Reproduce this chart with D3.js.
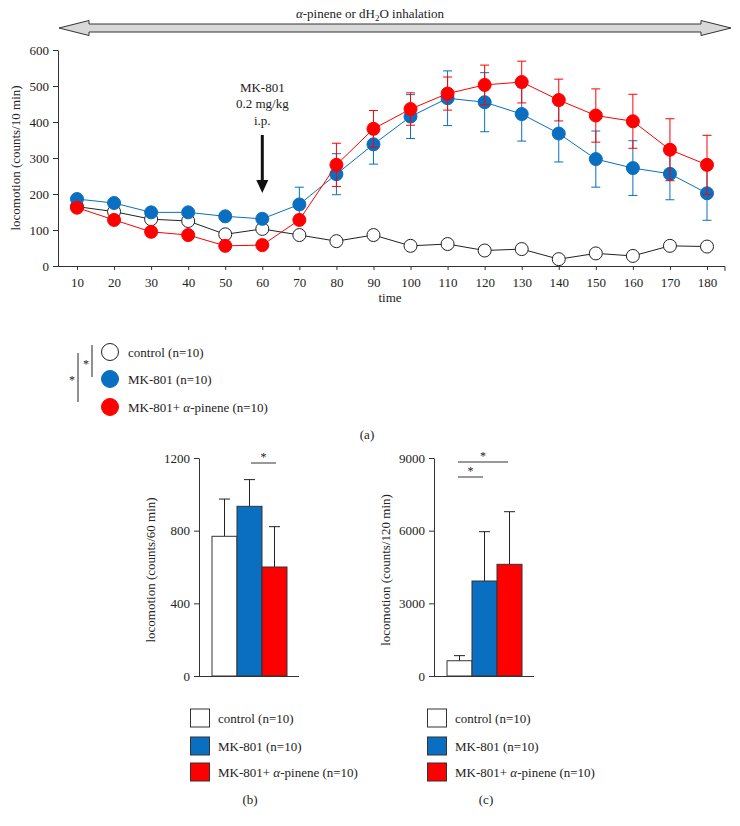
<!DOCTYPE html>
<html><head><meta charset="utf-8">
<script src="https://cdn.jsdelivr.net/npm/d3@7"></script>
<style>body{margin:0;background:#fff}svg{display:block}text{font-family:"Liberation Serif","Times New Roman",serif;fill:#222}</style>
</head><body>
<script>
const times = [10,20,30,40,50,60,70,80,90,100,110,120,130,140,150,160,170,180];
const controlMean = [165,151,130,125,88,103,86,69,86,56,61,43,47,19,35,28,56,54];
const mkMean = [186,175,149,149,138,131,171,255,338,415,466,455,422,368,297,272,256,202];
const mkErr = [10,10,10,10,10,10,48,57,55,61,76,82,75,79,78,76,72,75];
const pinMean = [162,128,95,86,56,58,128,281,381,436,479,503,511,461,418,402,323,281];
const pinErr = [10,10,10,10,10,10,12,60,51,45,46,55,58,58,74,75,86,82];
const yTicksA = [0,100,200,300,400,500,600];

const groups = ["control (n=10)", "MK-801 (n=10)", "MK-801+ α-pinene (n=10)"];
const bar60Mean = [769,934,600];
const bar60Err = [205,147,222];
const bar120Mean = [630,3922,4611];
const bar120Err = [210,2036,2172];
const yTicksB = [0,400,800,1200];
const yTicksC = [0,3000,6000,9000];

const BLUE = "#0a6fc0", RED = "#ff0000";
const colors = ["#ffffff", BLUE, RED];
const FONT = "Liberation Serif, Times New Roman, serif";

const svg = d3.select("body").append("svg").attr("width",740).attr("height",826).attr("font-family",FONT);

// top arrow
const ax1 = 59, ax2 = 731, ay = 28, hl = 30, hh = 7.5, sh = 4;
svg.append("path")
  .attr("d", `M${ax1},${ay} L${ax1+hl},${ay-hh} L${ax1+hl},${ay-sh} L${ax2-hl},${ay-sh} L${ax2-hl},${ay-hh} L${ax2},${ay} L${ax2-hl},${ay+hh} L${ax2-hl},${ay+sh} L${ax1+hl},${ay+sh} L${ax1+hl},${ay+hh} Z`)
  .attr("fill","#d8d8d8").attr("stroke","#333").attr("stroke-width",1);
const tt = svg.append("text").attr("x",370).attr("y",18).attr("text-anchor","middle").attr("font-size",13);
tt.append("tspan").attr("font-style","italic").text("α");
tt.append("tspan").text("-pinene or dH");
tt.append("tspan").attr("font-size",9).attr("dy",3).text("2");
tt.append("tspan").attr("dy",-3).text("O inhalation");

// chart a
const x = d3.scaleLinear().domain([10,180]).range([77,707]);
const y = d3.scaleLinear().domain([0,600]).range([266,50]);
const gA = svg.append("g");
const yAx = gA.append("g").attr("transform","translate(58,0)")
  .call(d3.axisLeft(y).tickValues(yTicksA).tickSize(5).tickSizeOuter(0).tickFormat(d3.format("d")));
const xAx = gA.append("g").attr("transform","translate(0,266)")
  .call(d3.axisBottom(x).tickValues(times).tickSize(4).tickSizeOuter(0).tickFormat(d3.format("d")));
xAx.select(".domain").attr("d","M58,0.5H725V5");
[yAx,xAx].forEach(a=>{a.attr("font-family",FONT).attr("font-size",13);
  a.selectAll("text").attr("fill","#222");
  a.selectAll("line,path").attr("stroke","#333");});
xAx.selectAll("text").attr("dy","1.1em");
yAx.selectAll("text").attr("dx","-1");
gA.append("text").attr("x",390).attr("y",302).attr("text-anchor","middle").attr("font-size",13).text("time");
gA.append("text").attr("transform","translate(20,158) rotate(-90)").attr("text-anchor","middle").attr("font-size",13).text("locomotion (counts/10 min)");

// MK-801 annotation
const ax = x(60);
["MK-801","0.2 mg/kg","i.p."].forEach((s,i)=>
  gA.append("text").attr("x",ax).attr("y",[92,108,125][i]).attr("text-anchor","middle").attr("font-size",13).text(s));
gA.append("rect").attr("x",ax-1.5).attr("y",135).attr("width",3).attr("height",46).attr("fill","#111");
gA.append("path").attr("d",`M${ax-6},180 L${ax+6},180 L${ax},193 Z`).attr("fill","#111");

const line = d3.line().x((d,i)=>x(times[i])).y(d=>y(d));
function errBars(mean, err, col){
  const g = gA.append("g").attr("stroke",col).attr("stroke-width",1);
  mean.forEach((m,i)=>{
    const cx = x(times[i]);
    g.append("line").attr("x1",cx).attr("x2",cx).attr("y1",y(m-err[i])).attr("y2",y(m+err[i]));
    [m-err[i], m+err[i]].forEach(v=>g.append("line").attr("x1",cx-4.5).attr("x2",cx+4.5).attr("y1",y(v)).attr("y2",y(v)));
  });
}
function series(mean, col, fill, stroke){
  gA.append("path").attr("d",line(mean)).attr("fill","none").attr("stroke",col).attr("stroke-width",1);
  gA.selectAll(null).data(mean).enter().append("circle")
    .attr("cx",(d,i)=>x(times[i])).attr("cy",d=>y(d)).attr("r",6.5)
    .attr("fill",fill).attr("stroke",stroke).attr("stroke-width",1);
}
series(controlMean,"#222","#fff","#222");
errBars(mkMean, mkErr, BLUE);
series(mkMean, BLUE, BLUE, BLUE);
errBars(pinMean, pinErr, RED);
series(pinMean, RED, RED, RED);

// legend a
const legA = svg.append("g");
[352,379,407].forEach((cy,i)=>{
  legA.append("circle").attr("cx",110).attr("cy",cy).attr("r",8.5)
    .attr("fill",i==0?"#fff":colors[i]).attr("stroke",i==0?"#222":colors[i]).attr("stroke-width",1);
  const t = legA.append("text").attr("x",128).attr("y",cy+4.5).attr("font-size",13);
  if(i<2) t.text(groups[i]);
  else {t.append("tspan").text("MK-801+ "); t.append("tspan").attr("font-style","italic").text("α"); t.append("tspan").text("-pinene (n=10)");}
});
legA.append("line").attr("x1",92).attr("x2",92).attr("y1",345).attr("y2",377).attr("stroke","#222");
legA.append("line").attr("x1",78).attr("x2",78).attr("y1",353).attr("y2",402).attr("stroke","#222");
legA.append("text").attr("x",86).attr("y",368).attr("text-anchor","middle").attr("font-size",12).text("*");
legA.append("text").attr("x",72).attr("y",384).attr("text-anchor","middle").attr("font-size",12).text("*");
svg.append("text").attr("x",367).attr("y",439).attr("text-anchor","middle").attr("font-size",13).text("(a)");

// bar charts
function barChart(x0, xEnd, barX0, ticks, mean, err, label, sigs){
  const yb = d3.scaleLinear().domain([0, ticks[ticks.length-1]]).range([676,458]);
  const xb = d3.scaleBand().domain(d3.range(mean.length)).range([barX0, barX0+75]).padding(0);
  const g = svg.append("g");
  mean.forEach((m,i)=>{
    const cx = xb(i)+xb.bandwidth()/2;
    g.append("line").attr("x1",cx).attr("x2",cx).attr("y1",yb(m)).attr("y2",yb(m+err[i])).attr("stroke","#222");
    g.append("line").attr("x1",cx-5.5).attr("x2",cx+5.5).attr("y1",yb(m+err[i])).attr("y2",yb(m+err[i])).attr("stroke","#222");
  });
  g.selectAll(null).data(mean).enter().append("rect")
    .attr("x",(d,i)=>xb(i)).attr("width",xb.bandwidth()).attr("y",d=>yb(d)).attr("height",d=>676-yb(d))
    .attr("fill",(d,i)=>colors[i]).attr("stroke","#333").attr("stroke-width",1);
  const a = g.append("g").attr("transform",`translate(${x0},0)`)
    .call(d3.axisLeft(yb).tickValues(ticks).tickSize(5).tickSizeOuter(0).tickFormat(d3.format("d")));
  a.attr("font-family",FONT).attr("font-size",13);
  a.selectAll("text").attr("fill","#222").attr("dx","-1");
  a.selectAll("line,path").attr("stroke","#333");
  g.append("line").attr("x1",x0).attr("x2",xEnd).attr("y1",676.5).attr("y2",676.5).attr("stroke","#333");
  g.append("text").attr("transform",`translate(${x0-44},570) rotate(-90)`).attr("text-anchor","middle").attr("font-size",13).text(label);
  sigs.forEach(s=>{
    g.append("line").attr("x1",s[0]).attr("x2",s[1]).attr("y1",s[2]).attr("y2",s[2]).attr("stroke","#333");
    g.append("text").attr("x",(s[0]+s[1])/2).attr("y",s[2]-2).attr("text-anchor","middle").attr("font-size",12).text("*");
  });
}
barChart(199, 299, 212, yTicksB, bar60Mean, bar60Err, "locomotion (counts/60 min)", [[251,276,463]]);
barChart(434, 534, 447, yTicksC, bar120Mean, bar120Err, "locomotion (counts/120 min)", [[458,508,462],[458,483,477]]);

function barLegend(sx, tx, lbl, lx){
  const g = svg.append("g");
  [709,737,763].forEach((yy,i)=>{
    g.append("rect").attr("x",sx).attr("y",yy).attr("width",19).attr("height",18)
      .attr("fill",colors[i]).attr("stroke","#333").attr("stroke-width",1);
    const t = g.append("text").attr("x",tx).attr("y",yy+13.5).attr("font-size",13);
    if(i<2) t.text(groups[i]);
    else {t.append("tspan").text("MK-801+ "); t.append("tspan").attr("font-style","italic").text("α"); t.append("tspan").text("-pinene (n=10)");}
  });
  g.append("text").attr("x",lx).attr("y",804).attr("text-anchor","middle").attr("font-size",13).text(lbl);
}
barLegend(190.5, 218, "(b)", 250);
barLegend(427.5, 455, "(c)", 486);
</script>
</body></html>
